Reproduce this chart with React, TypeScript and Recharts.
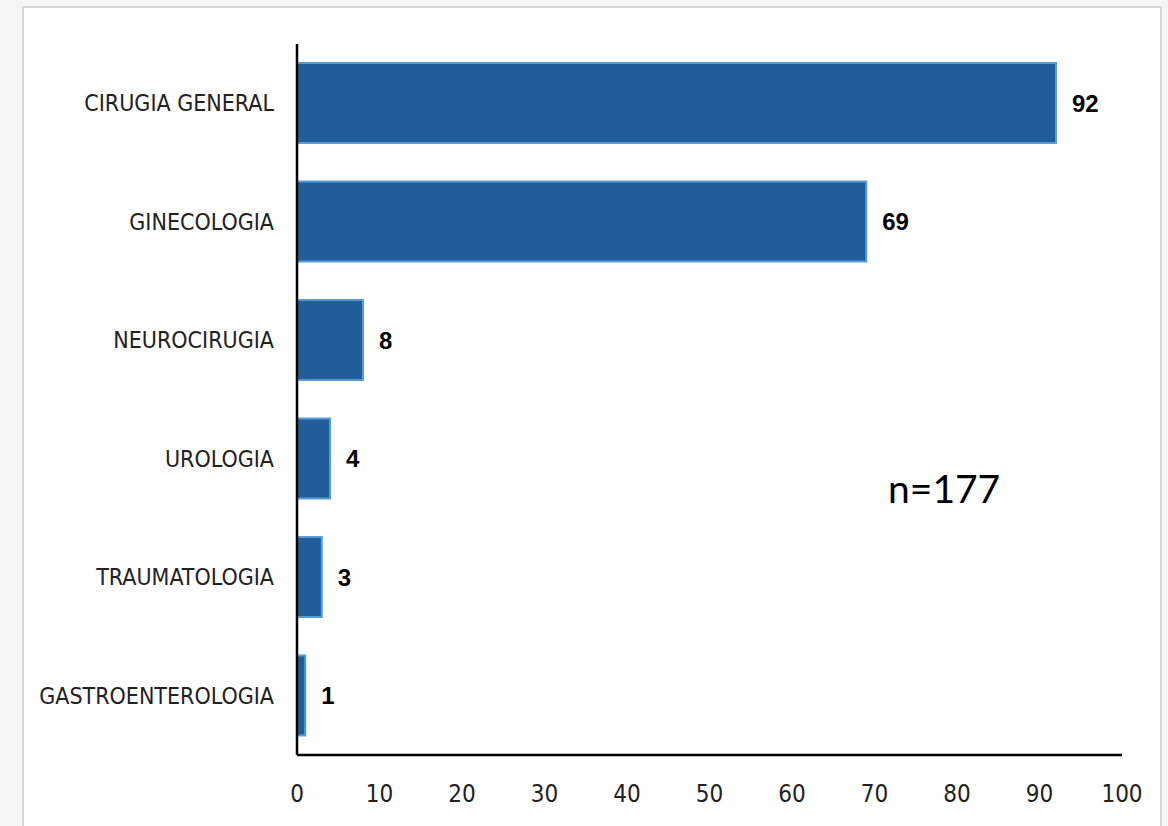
import { Bar, BarChart, LabelList, XAxis, YAxis } from "recharts";

const SPECIALTIES = [
  "CIRUGIA GENERAL",
  "GINECOLOGIA",
  "NEUROCIRUGIA",
  "UROLOGIA",
  "TRAUMATOLOGIA",
  "GASTROENTEROLOGIA"
];
const CASES = [92, 69, 8, 4, 3, 1];
const X_TICKS = [0, 10, 20, 30, 40, 50, 60, 70, 80, 90, 100];
const TOTAL_LABEL = "n=177";

const data = SPECIALTIES.map((name, i) => ({ name, value: CASES[i] }));

const NARROW = '"Liberation Sans Narrow", "DejaVu Sans Condensed", sans-serif';

export default function App() {
  return (
    <div
      style={{
        position: "absolute",
        left: 0,
        top: 0,
        width: 1168,
        height: 826,
        background: "#f6f6f6",
        overflow: "hidden"
      }}
    >
      <div
        style={{
          position: "absolute",
          left: 22,
          top: 6,
          width: 1140,
          height: 840,
          background: "#ffffff",
          border: "2px solid #d6d6d6",
          boxSizing: "border-box"
        }}
      />
      <div style={{ position: "absolute", left: 0, top: 0 }}>
        <BarChart
          width={1168}
          height={826}
          data={data}
          layout="vertical"
          margin={{ top: 44, right: 46, bottom: 0, left: 0 }}
        >
          <XAxis
            type="number"
            domain={[0, 100]}
            ticks={X_TICKS}
            interval={0}
            height={71}
            axisLine={{ stroke: "#000", strokeWidth: 2.5 }}
            tickLine={false}
            tickSize={0}
            tickMargin={30}
            tick={{ fill: "#222", fontSize: 24, fontFamily: NARROW }}
          />
          <YAxis
            type="category"
            dataKey="name"
            width={297}
            axisLine={{ stroke: "#000", strokeWidth: 2.5 }}
            tickLine={false}
            tickSize={0}
            tickMargin={23}
            tick={{ fill: "#222", fontSize: 23, fontFamily: NARROW }}
          />
          <Bar
            dataKey="value"
            barSize={80}
            fill="#215e99"
            stroke="#5b9bd5"
            strokeWidth={2}
            isAnimationActive={false}
          >
            <LabelList
              dataKey="value"
              position="right"
              offset={16}
              fill="#000"
              fontSize={24}
              fontWeight="bold"
              fontFamily='"Liberation Sans", Arial, sans-serif'
            />
          </Bar>
        </BarChart>
      </div>
      <div
        style={{
          position: "absolute",
          left: 888,
          top: 463,
          fontFamily: "Lato, sans-serif",
          fontSize: 39,
          lineHeight: "50px",
          color: "#000"
        }}
      >
        {TOTAL_LABEL}
      </div>
    </div>
  );
}
